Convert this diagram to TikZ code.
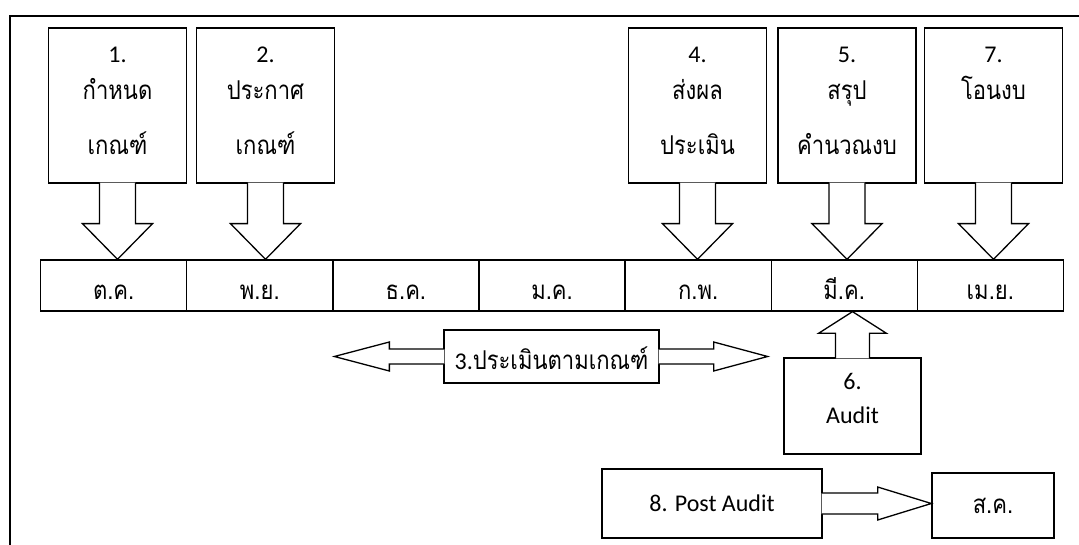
\documentclass[tikz,border=0pt]{standalone}
\usepackage{fontspec}
\setmainfont{Carlito}
\newfontfamily\thai[Script=Thai,Scale=1.08,FakeStretch=0.85]{Loma}
\usetikzlibrary{positioning,calc}

% down arrow from a callout box to a month cell
\newcommand{\calldown}[2]{%
  \filldraw[blockarrow] ($(#1.south)+(-18,-1)$) -- ++(0,41) -- ++(-17,0)
    -- (#1.south |- #2.north) -- ($(#1.south)+(35,40)$) -- ++(-17,0) -- ++(0,-41);}

\begin{document}
\begin{tikzpicture}[x=1pt,y=-1pt]
    \tikzstyle{every path}=[line width=1.3pt];
    \tikzstyle{cell}=[draw, minimum width=146.1pt, minimum height=51pt, inner sep=0pt, text height=29pt, text depth=0pt, font=\thai\fontsize{24}{28}\selectfont];
    \tikzstyle{callbox}=[draw, fill=white, minimum width=138pt, minimum height=155pt, inner sep=0pt];
    \tikzstyle{calltext}=[align=center, anchor=north, inner sep=0pt, font=\fontsize{24}{28}\selectfont];
    \tikzstyle{blockarrow}=[draw, fill=white, line join=miter];
    \useasboundingbox (0,0) rectangle (1079,545);
    \draw (10,545) -- (10,16) -- (1079,16);
    % months
    \node[cell] (oct) at (113.7,285.5) {ต.ค.};
    \node[cell] (nov) at (259.8,285.5) {พ.ย.};
    \node[cell] (dec) at (405.9,285.5) {ธ.ค.};
    \node[cell] (jan) at (552.0,285.5) {ม.ค.};
    \node[cell] (feb) at (698.1,285.5) {ก.พ.};
    \node[cell] (mar) at (844.2,285.5) {มี.ค.};
    \node[cell] (apr) at (990.3,285.5) {เม.ย.};
    % steps above the months
    \node[callbox] (b1) at (117.5,105.5) {};
    \node[callbox] (b2) at (265.5,105.5) {};
    \node[callbox] (b4) at (697.5,105.5) {};
    \node[callbox] (b5) at (847,105.5) {};
    \node[callbox] (b7) at (993.5,105.5) {};
    \calldown{b1}{oct}
    \calldown{b2}{nov}
    \calldown{b4}{feb}
    \calldown{b5}{mar}
    \calldown{b7}{apr}
    \node[calltext] (t1) at ([yshift=-19pt]b1.north) {1.\\[9pt]{\thai กำหนด}\\[27pt]{\thai เกณฑ์}};
    \node[calltext] (t2) at ([yshift=-19pt]b2.north) {2.\\[9pt]{\thai ประกาศ}\\[27pt]{\thai เกณฑ์}};
    \node[calltext] (t4) at ([yshift=-19pt]b4.north) {4.\\[9pt]{\thai ส่งผล}\\[27pt]{\thai ประเมิน}};
    \node[calltext] (t5) at ([yshift=-19pt]b5.north) {5.\\[9pt]{\thai สรุป}\\[27pt]{\thai คำนวณงบ}};
    \node[calltext] (t7) at ([yshift=-19pt]b7.north) {7.\\[9pt]{\thai โอนงบ}};
    % step 3
    \node[draw, fill=white, minimum width=215pt, minimum height=53pt, inner sep=0pt, text height=27pt, text depth=0pt, font=\fontsize{24}{28}\selectfont] (b3) at (551.5,356.5) {3.{\thai ประเมินตามเกณฑ์}};
    \filldraw[blockarrow] ($(b3.west)+(1,-7.5)$) -- ++(-55,0) -- ++(0,-7) -- ++(-55,14.5) -- ++(55,14.5) -- ++(0,-7) -- ++(55,0);
    \filldraw[blockarrow] ($(b3.east)+(-1,-7.5)$) -- ++(55,0) -- ++(0,-7) -- ++(54,14.5) -- ++(-54,14.5) -- ++(0,-7) -- ++(-55,0);
    % step 6
    \node[callbox, minimum width=137pt, minimum height=96pt] (b6) at (852.5,406) {};
    \filldraw[blockarrow] ($(b6.north)+(-17,1)$) -- ++(0,-25) -- ++(-17,0) -- (b6.north |- mar.south) -- ($(b6.north)+(34,-24)$) -- ++(-17,0) -- ++(0,25);
    \node[calltext] (t6) at ([yshift=-15pt]b6.north) {6.\\[6pt]Audit};
    % step 8
    \node[draw, minimum width=122pt, minimum height=65pt, inner sep=0pt, font=\thai\fontsize{24}{28}\selectfont] (aug) at (993,505.5) {ส.ค.};
    \node[draw, minimum width=220pt, minimum height=69pt, inner sep=0pt, font=\fontsize{24}{28}\selectfont] (b8) at (712,503.5) {8. Post Audit};
    \filldraw[blockarrow] ($(b8.east)+(-1,-10.5)$) -- ++(56,0) -- ++(0,-6) -- (aug.west |- b8.east) -- ($(b8.east)+(55,16.5)$) -- ++(0,-6) -- ++(-56,0);
\end{tikzpicture}
\end{document}
